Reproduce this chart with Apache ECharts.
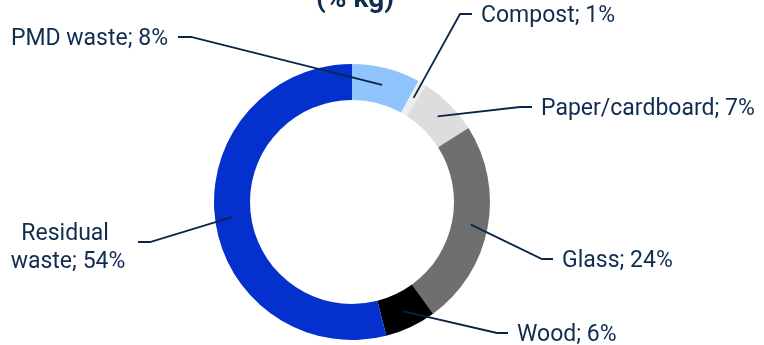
<!DOCTYPE html>
<html>
<head>
<meta charset="utf-8">
<script src="https://cdn.jsdelivr.net/npm/echarts@6/dist/echarts.min.js"></script>
<style>
  html, body { margin: 0; padding: 0; background: #ffffff; }
  #chart { width: 764px; height: 345px; }
</style>
</head>
<body>
<div id="chart"></div>
<script>
// Waste fractions, share of total weight (%)
const categories = ['PMD waste', 'Compost', 'Paper/cardboard', 'Glass', 'Wood', 'Residual waste'];
const shares = [8, 1, 7, 24, 6, 54];
const sliceColors = ['#8fc4fd', '#eeeeee', '#dddddd', '#6f6f6f', '#000000', '#0431cd'];

const INK = '#102d4f';
const CENTER = [352, 202];
const R_IN = 102;
const R_OUT = 138;
const R_LINE = 121; // leader lines start in the middle of the ring

// Where each label sits and where its leader line bends (elbow) and ends
const labelSpots = [
  { textX: 168, textY: 39,  align: 'right',  elbow: [191, 37],  end: [178, 37] },
  { textX: 481, textY: 16,  align: 'left',   elbow: [460, 14],  end: [472, 14] },
  { textX: 541, textY: 109, align: 'left',   elbow: [520, 107], end: [532, 107] },
  { textX: 562, textY: 261, align: 'left',   elbow: [542, 259], end: [553, 259] },
  { textX: 517, textY: 335, align: 'left',   elbow: [497, 333], end: [508, 333] },
  { textX: 68,  textY: 248, align: 'center', elbow: [150, 242], end: [138, 242] }
];

// Middle angle of each slice, measured clockwise from 12 o'clock
const total = shares.reduce(function (a, b) { return a + b; }, 0);
const midAngles = [];
shares.reduce(function (acc, v) {
  midAngles.push((acc + v / 2) / total * Math.PI * 2);
  return acc + v;
}, 0);

const ringBase = {
  type: 'pie',
  center: CENTER,
  radius: [R_IN, R_OUT],
  startAngle: 90,
  clockwise: true,
  avoidLabelOverlap: false,
  animation: false
};

const chart = echarts.init(document.getElementById('chart'), null, { renderer: 'canvas' });

chart.setOption({
  animation: false,
  backgroundColor: '#ffffff',
  title: {
    text: '(% kg)',
    left: 350,
    textAlign: 'center',
    top: -19,
    textStyle: { color: INK, fontFamily: 'Roboto', fontWeight: 'bold', fontSize: 28 }
  },
  series: [
    // the coloured ring
    Object.assign({}, ringBase, {
      z: 2,
      label: { show: false },
      labelLine: { show: false },
      itemStyle: { borderWidth: 0 },
      data: categories.map(function (name, i) {
        return { name: name, value: shares[i], itemStyle: { color: sliceColors[i] } };
      })
    }),
    // labels and leader lines, layered above the ring
    Object.assign({}, ringBase, {
      z: 3,
      silent: true,
      itemStyle: { color: 'rgba(0,0,0,0)', borderWidth: 0 },
      label: {
        show: true,
        formatter: '{b}; {c}%',
        color: INK,
        fontFamily: 'Roboto',
        fontSize: 23,
        lineHeight: 28
      },
      labelLine: {
        show: true,
        length: 20,
        length2: 12,
        lineStyle: { color: '#0b2547', width: 1.8 }
      },
      labelLayout: function (params) {
        const i = params.dataIndex;
        const spot = labelSpots[i];
        const a = midAngles[i];
        const start = [CENTER[0] + R_LINE * Math.sin(a), CENTER[1] - R_LINE * Math.cos(a)];
        return {
          x: spot.textX,
          y: spot.textY,
          align: spot.align,
          verticalAlign: 'middle',
          labelLinePoints: [start, spot.elbow, spot.end]
        };
      },
      data: categories.map(function (name, i) {
        const item = { name: name, value: shares[i] };
        if (name === 'Residual waste') {
          item.label = { width: 135, overflow: 'break', align: 'center' };
        }
        return item;
      })
    })
  ]
});
</script>
</body>
</html>
